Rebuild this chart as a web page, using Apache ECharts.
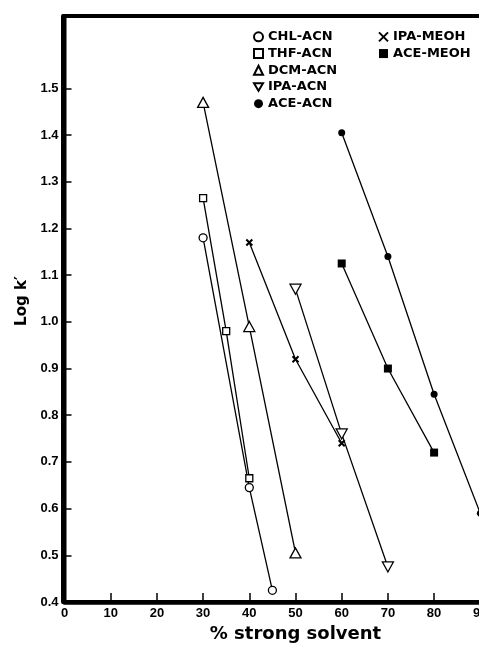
<!DOCTYPE html>
<html><head><meta charset="utf-8">
<script src="https://cdn.jsdelivr.net/npm/echarts@6/dist/echarts.min.js"></script>
<style>html,body{margin:0;padding:0;background:#fff}#c{width:479px;height:646px}</style>
</head><body><div id="c"></div>
<script>
// ---- data ----
const chlAcn  = [[30, 1.18], [40, 0.645], [45, 0.425]];
const thfAcn  = [[30, 1.265], [35, 0.98], [40, 0.665]];
const dcmAcn  = [[30, 1.47], [40, 0.99], [50, 0.505]];
const ipaAcn  = [[50, 1.07], [60, 0.76], [70, 0.475]];
const aceAcn  = [[60, 1.405], [70, 1.14], [80, 0.845], [90, 0.59]];
const ipaMeoh = [[40, 1.17], [50, 0.92], [60, 0.74]];
const aceMeoh = [[60, 1.125], [70, 0.90], [80, 0.72]];
const xTickLabels = [0, 10, 20, 30, 40, 50, 60, 70, 80, 90];
const yTickLabels = [0.4, 0.5, 0.6, 0.7, 0.8, 0.9, 1.0, 1.1, 1.2, 1.3, 1.4, 1.5];
const xTitle = '% strong solvent';
const yTitle = 'Log k\u2032';

// ---- styling ----
const X_PATH = 'path://M0,0L10,10M10,0L0,10';
const INV_TRI = 'path://M0,0L12,0L6,10Z';
const open = { color: '#fff', borderColor: '#000', borderWidth: 1.3 };
const filled = { color: '#000', borderColor: '#000', borderWidth: 0 };

function mk(name, data, symbol, size, itemStyle, extra) {
  return Object.assign({
    name, type: 'line', data, symbol, symbolSize: size,
    lineStyle: { color: '#000', width: 1.3 },
    itemStyle, emphasis: { disabled: true }, animation: false, z: 3, clip: false
  }, extra || {});
}

const series = [
  mk('CHL-ACN', chlAcn, 'circle', 8, open),
  mk('THF-ACN', thfAcn, 'rect', 7, open),
  mk('DCM-ACN', dcmAcn, 'triangle', [11, 10], open),
  mk('IPA-ACN', ipaAcn, INV_TRI, [11, 10], open),
  mk('ACE-ACN', aceAcn, 'circle', 7, filled),
  mk('IPA-MEOH', ipaMeoh, X_PATH, 6, { color: '#000', borderColor: '#000', borderWidth: 2 }),
  mk('ACE-MEOH', aceMeoh, 'rect', 8, filled)
];

const legendText = { fontFamily: 'DejaVu Sans', fontWeight: 'bold', fontSize: 13, color: '#000', lineHeight: 16.7 };
const legendCommon = {
  orient: 'vertical', itemGap: 0, itemWidth: 9, itemHeight: 9,
  selectedMode: false, textStyle: legendText, padding: 0
};

const chart = echarts.init(document.getElementById('c'), null, { renderer: 'canvas' });
chart.setOption({
  animation: false,
  backgroundColor: '#fff',
  grid: { left: 64.5, top: 16, width: 462, height: 586, outerBoundsMode: 'none', containLabel: false,
    show: true, borderColor: '#000', borderWidth: 4, backgroundColor: 'transparent' },
  legend: [
    Object.assign({}, legendCommon, {
      left: 253, top: 28.5,
      data: [
        { name: 'CHL-ACN', icon: 'circle' },
        { name: 'THF-ACN', icon: 'rect' },
        { name: 'DCM-ACN', icon: 'triangle' },
        { name: 'IPA-ACN', icon: INV_TRI },
        { name: 'ACE-ACN', icon: 'circle' }
      ]
    }),
    Object.assign({}, legendCommon, {
      left: 378, top: 28.5,
      data: [
        { name: 'IPA-MEOH', icon: X_PATH },
        { name: 'ACE-MEOH', icon: 'rect' }
      ]
    })
  ],
  xAxis: {
    type: 'value', min: 0, max: 100, interval: 10,
    axisLine: { show: true, onZero: false, lineStyle: { color: '#000', width: 4.5 } },
    axisTick: { show: true, inside: true, length: 9, lineStyle: { color: '#000', width: 1.5 }, customValues: xTickLabels },
    axisLabel: { customValues: xTickLabels, margin: 5, color: '#000', fontFamily: 'Liberation Sans', fontWeight: 'bold', fontSize: 13 },
    splitLine: { show: false },
    name: xTitle, nameLocation: 'middle', nameGap: 22,
    nameTextStyle: { color: '#000', fontFamily: 'DejaVu Sans', fontWeight: 'bold', fontSize: 18 }
  },
  yAxis: {
    type: 'value', min: 0.4, max: 1.655, interval: 0.1, offset: 2,
    axisLine: { show: true, onZero: false, lineStyle: { color: '#000', width: 4 } },
    axisTick: { show: true, inside: true, length: 9, lineStyle: { color: '#000', width: 1.5 }, customValues: yTickLabels },
    axisLabel: { customValues: yTickLabels, margin: 4, color: '#000', fontFamily: 'Liberation Sans', fontWeight: 'bold', fontSize: 13,
      formatter: v => Number(v).toFixed(1) },
    splitLine: { show: false },
    name: yTitle, nameLocation: 'middle', nameGap: 28, nameRotate: 90,
    nameTextStyle: { color: '#000', fontFamily: 'DejaVu Sans', fontWeight: 'bold', fontSize: 15, padding: [0, 0, 0, 16] }
  },
  series
});
</script>
</body></html>
